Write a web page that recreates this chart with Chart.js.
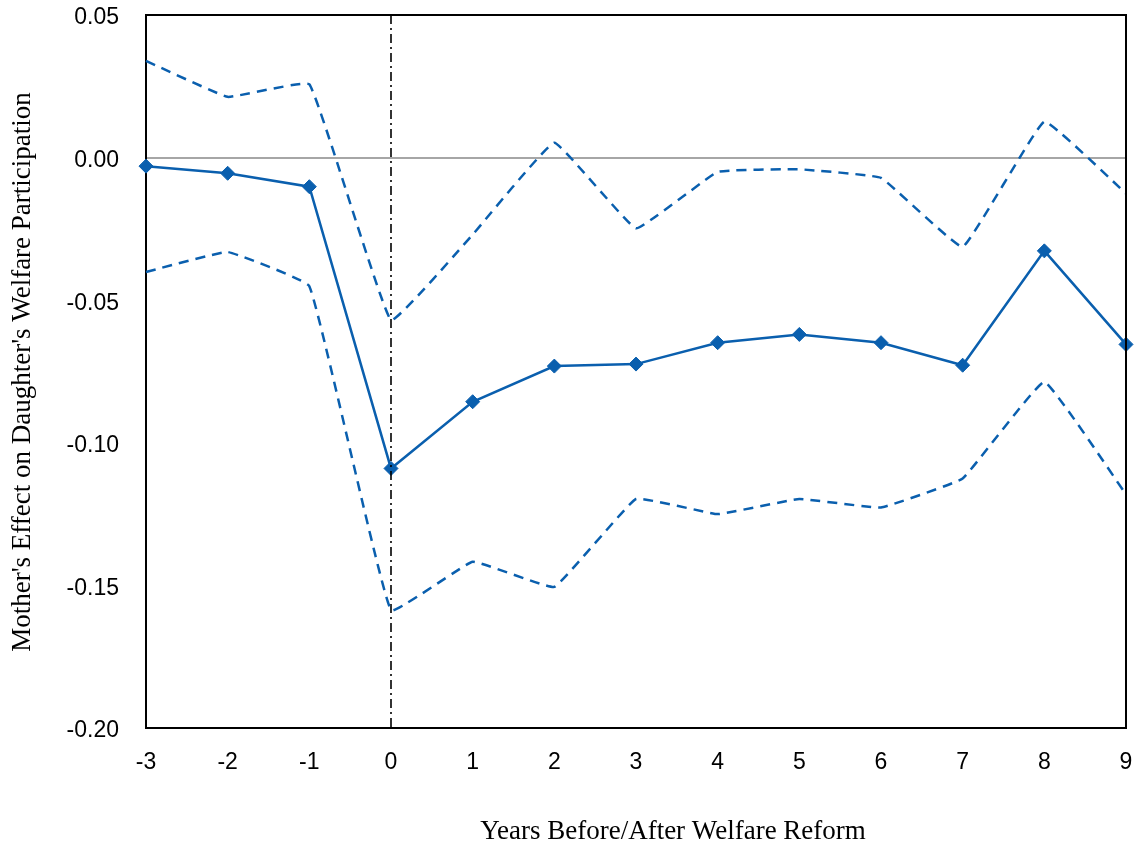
<!DOCTYPE html>
<html>
<head>
<meta charset="utf-8">
<script src="https://cdn.jsdelivr.net/npm/chart.js@4.4.1/dist/chart.umd.min.js"></script>
<style>
  html, body { margin: 0; padding: 0; background: #ffffff; }
  #wrap { width: 1135px; height: 848px; position: relative; }
</style>
</head>
<body>
<div id="wrap"><canvas id="chart" width="1135" height="848"></canvas></div>
<script>
// Years relative to the reform
const years = [-3, -2, -1, 0, 1, 2, 3, 4, 5, 6, 7, 8, 9];

// Point estimates and 95% confidence bounds
const estimate = [-0.0030, -0.0055, -0.0102, -0.1090, -0.0856, -0.0731, -0.0724, -0.0649, -0.0620, -0.0649, -0.0728, -0.0327, -0.0655];
const upperBound = [0.0339, 0.0213, 0.0257, -0.0570, -0.0270, 0.0052, -0.0248, -0.0050, -0.0041, -0.0071, -0.0313, 0.0126, -0.0126];
const lowerBound = [-0.0401, -0.0331, -0.0451, -0.1587, -0.1417, -0.1505, -0.1197, -0.1250, -0.1197, -0.1227, -0.1125, -0.0786, -0.1181];

// Reform year marker spans the full value range
const reformYear = [0, 0];
const reformSpan = [0.05, -0.20];

// Axis tick settings
const yTicks = [0.05, 0.00, -0.05, -0.10, -0.15, -0.20];
const xTitle = 'Years Before/After Welfare Reform';
const yTitle = "Mother's Effect on Daughter's Welfare Participation";

const blue = '#0a5fae';
const toPoints = (xs, ys) => xs.map((x, i) => ({ x: x, y: ys[i] }));

// Keep the plot area fixed: no extra room reserved for overhanging tick labels
const noOverhang = scale => {
  scale.paddingTop = 0;
  scale.paddingBottom = 0;
  scale.paddingLeft = 0;
  scale.paddingRight = 0;
};

// Frame on top/right edges plus the two axis titles
const framePlugin = {
  id: 'frame',
  afterDraw(chart) {
    const { ctx, chartArea } = chart;
    ctx.save();
    ctx.strokeStyle = '#000000';
    ctx.lineWidth = 2;
    ctx.beginPath();
    ctx.moveTo(chartArea.left, chartArea.top);
    ctx.lineTo(chartArea.right, chartArea.top);
    ctx.lineTo(chartArea.right, chartArea.bottom);
    ctx.stroke();

    ctx.fillStyle = '#000000';
    ctx.font = '27px "Liberation Serif", "Times New Roman", serif';
    ctx.textAlign = 'center';
    ctx.textBaseline = 'middle';
    // x-axis title
    ctx.fillText(xTitle, 673, 832);
    // y-axis title
    ctx.translate(23, 372);
    ctx.rotate(-Math.PI / 2);
    ctx.fillText(yTitle, 0, 0);
    ctx.restore();
  }
};

new Chart(document.getElementById('chart'), {
  type: 'line',
  data: {
    datasets: [
      {
        label: 'Upper bound',
        data: toPoints(years, upperBound),
        borderColor: blue,
        borderWidth: 2.5,
        borderDash: [10, 7],
        pointRadius: 0,
        tension: 0.08,
        fill: false,
        clip: false
      },
      {
        label: 'Lower bound',
        data: toPoints(years, lowerBound),
        borderColor: blue,
        borderWidth: 2.5,
        borderDash: [10, 7],
        pointRadius: 0,
        tension: 0.08,
        fill: false,
        clip: false
      },
      {
        label: 'Reform',
        data: toPoints(reformYear, reformSpan),
        borderColor: '#000000',
        borderWidth: 1.6,
        borderDash: [9, 4, 2, 4],
        pointRadius: 0,
        fill: false
      },
      {
        label: 'Estimate',
        data: toPoints(years, estimate),
        borderColor: blue,
        backgroundColor: blue,
        borderWidth: 2.5,
        pointStyle: 'rectRot',
        pointRadius: 7,
        pointBorderWidth: 1,
        pointBorderColor: blue,
        pointBackgroundColor: blue,
        tension: 0,
        fill: false,
        clip: false
      }
    ]
  },
  options: {
    responsive: false,
    animation: false,
    layout: { padding: { top: 15, right: 9, left: 0, bottom: 0 } },
    plugins: {
      legend: { display: false },
      tooltip: { enabled: false }
    },
    scales: {
      x: {
        type: 'linear',
        min: -3,
        max: 9,
        afterFit(scale) { scale.height = 120; noOverhang(scale); },
        afterBuildTicks(scale) { scale.ticks = years.map(v => ({ value: v })); },
        grid: { display: false, drawTicks: false, tickLength: 0 },
        border: { display: true, color: '#000000', width: 2 },
        ticks: {
          padding: 21,
          color: '#000000',
          font: { family: '"Liberation Sans", Arial, sans-serif', size: 23 },
          callback: v => String(v),
          maxRotation: 0,
          autoSkip: false
        }
      },
      y: {
        type: 'linear',
        min: -0.20,
        max: 0.05,
        afterFit(scale) { scale.width = 146; noOverhang(scale); },
        afterBuildTicks(scale) { scale.ticks = yTicks.map(v => ({ value: v })); },
        grid: {
          drawTicks: false,
          tickLength: 0,
          lineWidth: 2,
          color: ctx => (ctx.tick && Math.abs(ctx.tick.value) < 1e-9) ? '#a6a6a6' : 'rgba(0,0,0,0)'
        },
        border: { display: true, color: '#000000', width: 2 },
        ticks: {
          padding: 27,
          labelOffset: 3,
          color: '#000000',
          font: { family: '"Liberation Sans", Arial, sans-serif', size: 23 },
          callback: v => (Math.abs(v) < 1e-9 ? 0 : v).toFixed(2)
        }
      }
    }
  },
  plugins: [framePlugin]
});
</script>
</body>
</html>
